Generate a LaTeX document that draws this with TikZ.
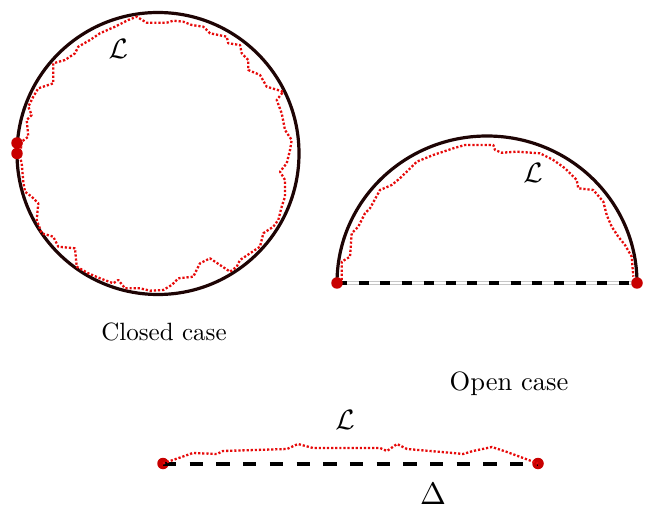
\documentclass[tikz,border=0pt]{standalone}
\usetikzlibrary{calc}
\definecolor{curvecol}{RGB}{30,4,4}
\definecolor{dotred}{RGB}{200,0,0}
\definecolor{pathred}{RGB}{230,10,10}
\begin{document}
\begin{tikzpicture}[x=1pt,y=-1pt,
  bigcurve/.style={draw=curvecol,line width=3.2},
  wiggle/.style={draw=pathred,line width=2.3,dash pattern=on 2.2 off 1.9,line join=round},
  endpt/.style={circle,fill=dotred,inner sep=0pt,minimum size=11.5},
  lab/.style={inner sep=0pt},
]
\useasboundingbox (0,0) rectangle (650,510);
% ---------- closed case ----------
\draw[bigcurve] (158,153.5) circle [radius=141];
\draw[wiggle] (20,156.7) -- (21.7,141.7) -- (28.3,136.7) -- (26.7,120) -- (31.7,115) -- (28.3,106.7) -- (33.3,96.7) -- (38.3,88.3) -- (53.3,83.3) -- (53.3,63.3) -- (65,60) -- (75,53.3) -- (78.3,46.7) -- (90,40) -- (100,33.3) -- (115,26.7) -- (128.3,20) -- (136.7,16.7) -- (146.7,22.7) -- (166.7,22.7) -- (173.3,20.7) -- (183.3,21.7) -- (191.7,25) -- (203.3,26.7) -- (210,33.3) -- (226.7,36.7) -- (228.3,43.3) -- (240,45) -- (241.7,53.3) -- (248.3,60) -- (248.3,70) -- (260,75) -- (266.7,86.7) -- (283.3,91.7) -- (276.7,100) -- (281.7,113.3) -- (285,130) -- (291.7,140) -- (290,150) -- (286.7,163.3) -- (280,171.7) -- (285,180) -- (285,196.7) -- (281.7,206.7) -- (278.3,220) -- (273.3,226.7) -- (263.3,233.3) -- (260,246.7) -- (250,253.3) -- (240,260) -- (236.7,266.7) -- (230,271.7) -- (210,258.3) -- (200,263.3) -- (193.3,276.7) -- (178.3,278.3) -- (171.7,285) -- (163.3,290) -- (150,290.7) -- (140,288.3) -- (125,288.3) -- (118.3,280) -- (113.3,283.3) -- (100,278.3) -- (88.3,273.3) -- (76.7,266.7) -- (75,248.3) -- (58.3,246.7) -- (53.3,236.7) -- (41.7,233.3) -- (36.7,220) -- (38.3,203.3) -- (31.7,196.7) -- (25,191.7) -- (23.3,181.7) -- (21.7,163.3) -- (20,156.7);
\node[endpt] (c1) at (17,143) {};
\node[endpt] (c2) at (17,153.5) {};
\node[lab,scale=2.8] (Lc) at (118.3,49) {$\mathcal{L}$};
\node[lab,scale=2.5] (closed) at (164,332) {Closed case};
% ---------- open case ----------
\coordinate (oa) at (337,283);
\coordinate (ob) at (637,283);
\draw[bigcurve] (oa) arc [start angle=180,end angle=360,x radius=150,y radius=147];
\draw[line width=3.6,gray!45] (oa) -- (ob);
\draw[line width=2,white] (oa) -- (ob);
\draw[line width=3.6,black,dash pattern=on 10 off 11.7] (oa) -- (ob);
\draw[wiggle] (341.7,280) -- (341.7,261.7) -- (350,256.7) -- (351.7,233.3) -- (358.3,226.7) -- (365,213.3) -- (370,208.3) -- (380,190) -- (391.7,185) -- (400,178.3) -- (406.7,171.7) -- (416.7,161.7) -- (433.3,155) -- (453.3,148.3) -- (465,145) -- (493.3,145) -- (495,150) -- (501.7,152.7) -- (516.7,151.7) -- (540,153.3) -- (553.3,160) -- (565,168.3) -- (576.7,180) -- (578.3,188.3) -- (593.3,190) -- (603.3,201.7) -- (606.7,215) -- (611.7,226.7) -- (618.3,236.7) -- (625,245) -- (631.7,256.7) -- (633.3,276.7);
\node[endpt] (o1) at (oa) {};
\node[endpt] (o2) at (ob) {};
\node[lab,scale=2.8] (Lo) at (533,172.5) {$\mathcal{L}$};
\node[lab,scale=2.65] (open) at (509,384) {Open case};
% ---------- segment ----------
\node[endpt] (s1) at (163,463.5) {};
\node[endpt] (s2) at (538,463.5) {};
\draw[line width=4,black,dash pattern=on 13.3 off 13.4] (s1.center) -- (s2.center);
\draw[wiggle] (s1.center) -- (193,453) -- (217,454) -- (223,451) -- (287,449) -- (298,444) -- (313,448) -- (380,448) -- (387,451) -- (397,444) -- (407,449) -- (453,453) -- (463,454) -- (473,451) -- (492,447) -- (507,452) -- (s2.center);
\node[lab,scale=2.8] (Ls) at (345,420) {$\mathcal{L}$};
\node[lab,scale=3.1] (Delta) at (433,494) {$\Delta$};
\end{tikzpicture}
\end{document}
